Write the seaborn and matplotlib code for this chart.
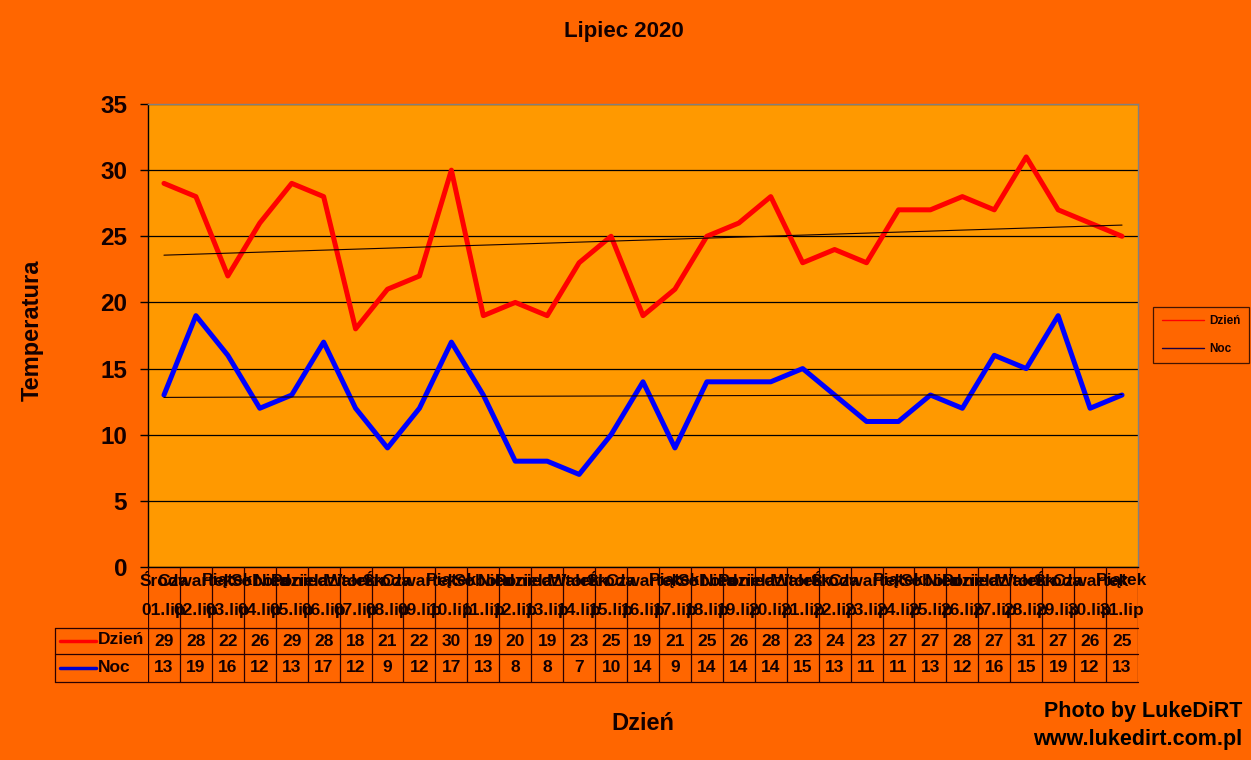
import numpy as np
import pandas as pd
import matplotlib
matplotlib.use("Agg")
import matplotlib.pyplot as plt
import seaborn as sns
from matplotlib.lines import Line2D

days = [f"{d:02d}.lip" for d in range(1, 32)]
weekdays = ["Środa", "Czwartek", "Piątek", "Sobota", "Niedziela", "Poniedziałek", "Wtorek"]
dzien = [29, 28, 22, 26, 29, 28, 18, 21, 22, 30, 19, 20, 19, 23, 25, 19,
         21, 25, 26, 28, 23, 24, 23, 27, 27, 28, 27, 31, 27, 26, 25]
noc = [13, 19, 16, 12, 13, 17, 12, 9, 12, 17, 13, 8, 8, 7, 10, 14,
       9, 14, 14, 14, 15, 13, 11, 11, 13, 12, 16, 15, 19, 12, 13]

sns.set_style("white")
plt.rcParams['font.family'] = ['Liberation Sans', 'DejaVu Sans']
plt.rcParams['font.weight'] = 'bold'

BG = "#FF6600"
PLOT_BG = "#FF9900"
INK = "#140000"
W, H = 1251, 760

df = pd.DataFrame({
    "idx": list(range(31)) * 2,
    "temp": dzien + noc,
    "serie": ["Dzień"] * 31 + ["Noc"] * 31,
})

fig = plt.figure(figsize=(W / 100, H / 100), dpi=100, facecolor=BG)


def box(l, t, r, b):
    return [l / W, 1 - b / H, (r - l) / W, (b - t) / H]


ax = fig.add_axes(box(148, 104, 1138, 567))
ax.set_facecolor(PLOT_BG)
sns.lineplot(data=df, x="idx", y="temp", hue="serie",
             palette={"Dzień": "#FF0000", "Noc": "#0000FF"},
             linewidth=3.6, ax=ax, legend=False)

# linear trendlines
x = np.arange(31)
for vals in (dzien, noc):
    k, b = np.polyfit(x, vals, 1)
    ax.plot(x, k * x + b, color=INK, linewidth=0.8)

ax.set_xlim(-0.5, 30.5)
ax.set_ylim(0, 35)
ax.set_yticks(range(0, 36, 5))
ax.yaxis.grid(True, color="black", linewidth=0.9)
ax.set_axisbelow(True)
ax.set_xticks([])
ax.set_xlabel("")
ax.set_ylabel("")
ax.tick_params(axis="y", direction="out", length=6, width=1, color="black",
               labelsize=17.5, labelcolor=INK, left=True, pad=9)
for lab in ax.get_yticklabels():
    lab.set_fontweight("bold")
for s in ("left", "bottom"):
    ax.spines[s].set_color("black")
    ax.spines[s].set_linewidth(1)
for s in ("top", "right"):
    ax.spines[s].set_color("#808080")
    ax.spines[s].set_linewidth(1)

# data table below the chart
tab = fig.add_axes(box(148, 567, 1138, 682))
tab.set_xlim(-0.5, 30.5)
tab.set_ylim(115, 0)
tab.axis("off")
lc = "#2a0000"
for k in range(32):
    tab.plot([k - 0.5, k - 0.5], [0, 115], color=lc, linewidth=0.9)
cat_w = 990 / 31
left = -0.5 - (148 - 55) / cat_w
for yy in (61, 87, 115):
    tab.plot([left, 30.5], [yy, yy], color=lc, linewidth=0.9, clip_on=False)
tab.plot([left, left], [61, 115], color=lc, linewidth=0.9, clip_on=False)

fs = 12.5
for i in range(31):
    tab.text(i, 14, weekdays[i % 7], ha="center", va="center",
             fontsize=fs, color=INK, fontweight="bold")
    tab.text(i, 44, days[i], ha="center", va="center",
             fontsize=fs, color=INK, fontweight="bold")
    tab.text(i, 74, str(dzien[i]), ha="center", va="center",
             fontsize=fs, color=INK, fontweight="bold")
    tab.text(i, 101, str(noc[i]), ha="center", va="center",
             fontsize=fs, color=INK, fontweight="bold")

ln_l = -0.5 - (148 - 60) / cat_w
ln_r = -0.5 - (148 - 96) / cat_w
tab.plot([ln_l, ln_r], [74, 74], color="#FF0000", linewidth=2.5, clip_on=False)
tab.plot([ln_l, ln_r], [101, 101], color="#0000CC", linewidth=2.5, clip_on=False)
tab.text(ln_r + 0.05, 73, "Dzień", ha="left", va="center", fontsize=fs,
         color=INK, fontweight="bold")
tab.text(ln_r + 0.05, 100, "Noc", ha="left", va="center", fontsize=fs,
         color=INK, fontweight="bold")

# texts
fig.text(624 / W, 1 - 32 / H, "Lipiec 2020", ha="center", va="center",
         fontsize=16, color=INK, fontweight="bold")
fig.text(32 / W, 1 - 330 / H, "Temperatura", ha="center", va="center",
         rotation=90, fontsize=17, color=INK, fontweight="bold")
fig.text(643 / W, 1 - 723 / H, "Dzień", ha="center", va="center",
         fontsize=17, color=INK, fontweight="bold")
fig.text(1242 / W, 1 - 712 / H, "Photo by LukeDiRT", ha="right", va="center",
         fontsize=15.5, color="black", fontweight="heavy")
fig.text(1242 / W, 1 - 739 / H, "www.lukedirt.com.pl", ha="right", va="center",
         fontsize=15.5, color="black", fontweight="heavy")

# legend
handles = [Line2D([], [], color="#FF0000", linewidth=1),
           Line2D([], [], color="#1a0040", linewidth=1)]
leg = fig.legend(handles, ["Dzień", "Noc"], loc="center",
                 bbox_to_anchor=(1201 / W, 1 - 335 / H),
                 frameon=True, fontsize=8.5, handlelength=3.6,
                 labelspacing=1.3, borderpad=0.7, handletextpad=0.4,
                 fancybox=False)
leg.get_frame().set_facecolor(BG)
leg.get_frame().set_edgecolor(INK)
leg.get_frame().set_linewidth(0.9)
for t in leg.get_texts():
    t.set_color(INK)

fig.savefig("out.png", dpi=100, facecolor=BG)
